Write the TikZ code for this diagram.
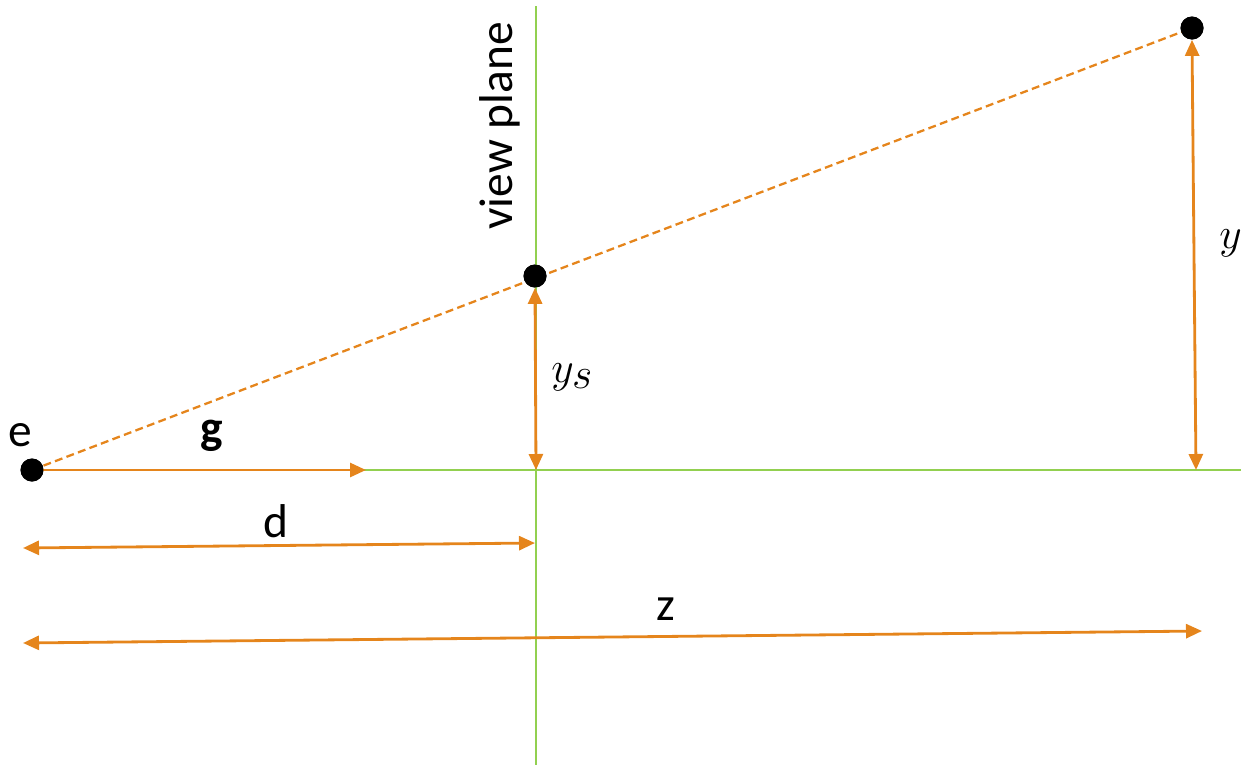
\documentclass[tikz,border=0pt]{standalone}
\usepackage{fontspec}
\setmainfont{Carlito}
\usepackage{tikz}
\usetikzlibrary{arrows.meta}
\definecolor{INK}{HTML}{000000}
\definecolor{ORANGE}{HTML}{E5851C}
\definecolor{GREEN}{HTML}{92D050}

\begin{document}
\begin{tikzpicture}[x=0.02cm,y=-0.02cm,font=\fontsize{27}{30}\selectfont]
\tikzset{plane/.style={GREEN,line width=1.1pt},ray/.style={ORANGE,line width=1.3pt,dash pattern=on 4.5pt off 2.5pt},
 vec/.style={ORANGE,line width=1.6pt,-{Triangle[length=0.32cm,width=0.28cm]}},
 dim/.style={ORANGE,line width=1.6pt,{Triangle[length=0.32cm,width=0.28cm]}-{Triangle[length=0.32cm,width=0.28cm]}},
 dot/.style={circle,fill=INK,inner sep=0pt,minimum size=0.46cm},lbl/.style={inner sep=0pt,INK},
 mlbl/.style={lbl,font=\fontsize{33}{36}\selectfont}}
\clip (0,0) rectangle (1241,765);
% points and free ends
\coordinate (vtop) at (536,6);\coordinate (vbot) at (536,765);\coordinate (hend) at (1241,470);
\coordinate (gtip) at (366,470);\coordinate (ysbot) at (536,470);\coordinate (ybot) at (1196,470);
\coordinate (dl) at (23,548);\coordinate (dr) at (535,543);
\coordinate (zl) at (23,643);\coordinate (zr) at (1202,631);
\node[dot] (e) at (32,470) {};
\node[dot] (s) at (535,276) {};
\node[dot] (p) at (1192,28) {};
% view plane and axis
\draw[plane] (vtop) -- (vbot);
\draw[plane] (e.center) -- (hend);
\draw[ray] (e.center) -- (p.center);
% vectors and distances
\draw[vec] (e.center) -- (gtip);
\draw[dim] (s.south) -- (ysbot);
\draw[dim] (p.south) -- (ybot);
\draw[dim] (dl) -- (dr);
\draw[dim] (zl) -- (zr);
\node[dot] at (e) {};\node[dot] at (s) {};\node[dot] at (p) {};
% labels
\node[lbl] (elbl) at (20,435) {e};
\node[lbl] (glbl) at (212,436) {\textbf{g}};
\node[lbl] (dlbl) at (276,521) {d};
\node[lbl] (zlbl) at (666,609) {z};
\node[mlbl,anchor=west] (yslbl) at (551,377) {$y_s$};
\node[mlbl,anchor=west] (ylbl) at (1219,243) {$y$};
\node[lbl,rotate=90] (vplbl) at (500,126) {view plane};
\end{tikzpicture}
\end{document}
